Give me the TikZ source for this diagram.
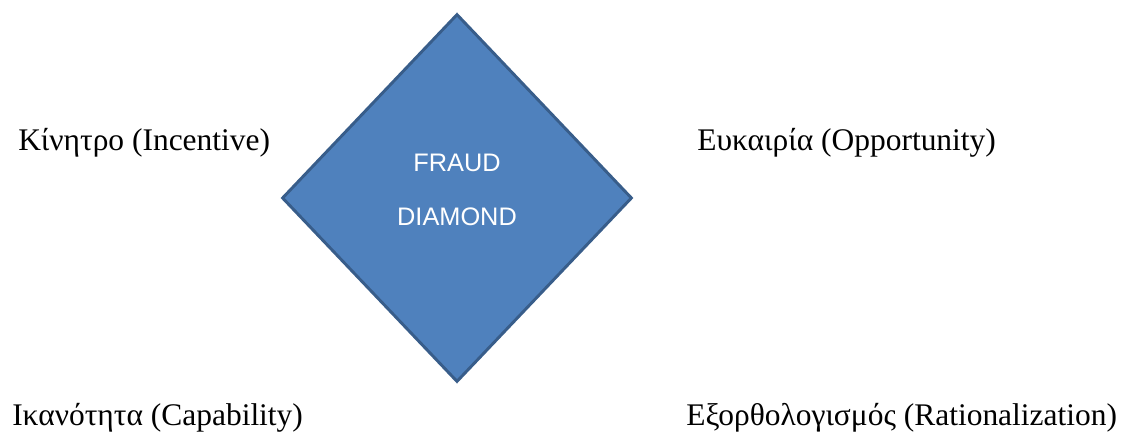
\documentclass[tikz,border=0pt]{standalone}
\usepackage{fontspec}
\setmainfont{Liberation Serif}
\newfontfamily\arialfont{Liberation Sans}
\usepackage{xcolor}
\usetikzlibrary{shapes.geometric}

\definecolor{fdfill}{HTML}{4F81BD}
\definecolor{fdline}{HTML}{385D8A}

\begin{document}
\begin{tikzpicture}[
  x=0.75pt, y=-0.75pt,
  font=\fontsize{23.6}{28}\selectfont,
  gem/.style={shape=diamond,draw=fdline,fill=fdfill,line width=2.2pt,
    minimum width=262.5pt,minimum height=276pt,inner sep=0pt},
  gemtext/.style={text=white,align=center,
    font=\arialfont\fontsize{19}{40.5}\selectfont},
  factor/.style={anchor=base west,inner sep=0pt}
]
\useasboundingbox (0,0) rectangle (1131,434);

% --- Diamond ---
\node[gem] (fd) at (457,198) {};
\node[gemtext] (fdtext) at (457,190) {FRAUD\\DIAMOND};

% --- Four factors ---
\node[factor] (incentive)  at (18,151)  {Κίνητρο (Incentive)};
\node[factor] (opportun)   at (697,151) {Ευκαιρία (Opportunity)};
\node[factor] (capability) at (12,425)  {Ικανότητα (Capability)};
\node[factor] (rational)   at (686,425) {Εξορθολογισμός (Rationalization)};
\end{tikzpicture}
\end{document}
